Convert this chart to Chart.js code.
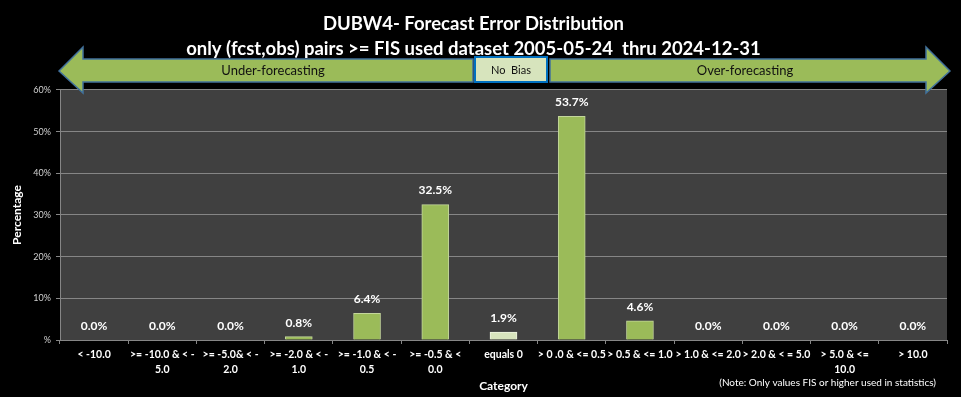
<!DOCTYPE html>
<html>
<head>
<meta charset="utf-8">
<script src="https://cdn.jsdelivr.net/npm/chart.js@4"></script>
<style>
  html, body { margin: 0; padding: 0; background: #000; }
  #wrap { width: 961px; height: 397px; }
</style>
</head>
<body>
<div id="wrap"><canvas id="error-chart"></canvas></div>
<script>
const categories = [
    '< -10.0',
    ['>= -10.0 & < -', '5.0'],
    ['>= -5.0& < -', '2.0'],
    ['>= -2.0 & < -', '1.0'],
    ['>= -1.0 & < -', '0.5'],
    ['>= -0.5 & <', '0.0'],
    'equals 0',
    '> 0 .0 & <= 0.5',
    '> 0.5 & <= 1.0',
    '> 1.0 & <= 2.0',
    '> 2.0 & < = 5.0',
    ['> 5.0 & <=', '10.0'],
    '> 10.0'
]
const percentages = [0.0, 0.0, 0.0, 0.8, 6.4, 32.5, 1.9, 53.7, 4.6, 0.0, 0.0, 0.0, 0.0]
const yTicks = [0, 10, 20, 30, 40, 50, 60]
const titleLines = [
    'DUBW4- Forecast Error Distribution',
    'only (fcst,obs) pairs >= FIS used dataset 2005-05-24  thru 2024-12-31'
]

const barColors = percentages.map((v, i) => i === 6 ? '#d7e4bd' : '#9bbb59')
const barBorders = percentages.map((v, i) => i === 6 ? '#eef4e2' : '#c3d69b')

// black page, dark grey plot area, arrows and labels on top
const decorations = {
    id: 'decorations',
    beforeDraw(chart) {
        const {ctx, chartArea: a} = chart
        ctx.save()
        ctx.fillStyle = '#000'
        ctx.fillRect(0, 0, chart.width, chart.height)
        ctx.fillStyle = '#404040'
        ctx.fillRect(a.left, a.top, a.right - a.left, a.bottom - a.top)
        ctx.restore()
    },
    afterDatasetsDraw(chart) {
        const {ctx} = chart
        const meta = chart.getDatasetMeta(0)
        ctx.save()
        ctx.fillStyle = '#fff'
        ctx.font = 'bold 12px Lato'
        ctx.textAlign = 'center'
        ctx.textBaseline = 'middle'
        meta.data.forEach((bar, i) => {
            ctx.fillText(percentages[i].toFixed(1) + '%', bar.x, bar.y - 14)
        })
        ctx.restore()
    },
    afterDraw(chart) {
        const {ctx} = chart
        ctx.save()
        ctx.lineWidth = 1.5
        ctx.strokeStyle = '#41719c'
        ctx.fillStyle = '#9bbb59'

        // left arrow
        ctx.beginPath()
        ctx.moveTo(59, 71)
        ctx.lineTo(83, 47)
        ctx.lineTo(83, 59)
        ctx.lineTo(473, 59)
        ctx.lineTo(473, 82)
        ctx.lineTo(83, 82)
        ctx.lineTo(83, 93)
        ctx.closePath()
        ctx.fill()
        ctx.stroke()

        // right arrow
        ctx.beginPath()
        ctx.moveTo(950, 71)
        ctx.lineTo(926, 47)
        ctx.lineTo(926, 59)
        ctx.lineTo(550, 59)
        ctx.lineTo(550, 82)
        ctx.lineTo(926, 82)
        ctx.lineTo(926, 93)
        ctx.closePath()
        ctx.fill()
        ctx.stroke()

        // no bias box
        ctx.fillStyle = '#d7e4bd'
        ctx.strokeStyle = '#0070c0'
        ctx.lineWidth = 2
        ctx.fillRect(475, 57, 72, 25)
        ctx.strokeRect(475, 57, 72, 25)

        ctx.fillStyle = '#111'
        ctx.font = '13px Lato'
        ctx.textAlign = 'center'
        ctx.textBaseline = 'middle'
        ctx.fillText('Under-forecasting', 273, 71)
        ctx.fillText('Over-forecasting', 745, 71)
        ctx.font = '11px Lato'
        ctx.fillText('No  Bias', 511, 70)

        ctx.fillStyle = '#fff'
        ctx.font = '10px Lato'
        ctx.textAlign = 'right'
        ctx.fillText('(Note: Only values FIS or higher used in statistics)', 936, 383)
        ctx.restore()
    }
}

const context = document.getElementById('error-chart').getContext('2d')

const configBar = {
    type: 'bar',
    data: {
        labels: categories,
        datasets: [{
            data: percentages,
            backgroundColor: barColors,
            borderColor: barBorders,
            borderWidth: 1,
            barThickness: 27
        }]
    },
    options: {
        responsive: true,
        maintainAspectRatio: false,
        animation: false,
        layout: {
            padding: { left: 0, right: 14, top: 0, bottom: 0 }
        },
        plugins: {
            legend: { display: false },
            tooltip: { enabled: false },
            title: {
                display: true,
                text: titleLines,
                color: '#fff',
                font: { family: 'Lato', size: 18.5, weight: 'bold', lineHeight: 1.35 },
                padding: { top: 12, bottom: 28 }
            }
        },
        scales: {
            x: {
                afterFit(scale) { scale.height = 57 },
                grid: {
                    drawOnChartArea: false,
                    color: '#868686',
                    tickLength: 4
                },
                border: { color: '#868686' },
                ticks: {
                    color: '#fff',
                    font: { family: 'Lato', size: 10.5, weight: 'bold', lineHeight: 1.35 },
                    maxRotation: 0,
                    autoSkip: false,
                    padding: 4
                },
                title: {
                    display: true,
                    text: 'Category',
                    color: '#fff',
                    font: { family: 'Lato', size: 12, weight: 'bold' },
                    padding: { top: 0, bottom: 4 }
                }
            },
            y: {
                min: 0,
                max: 60,
                afterFit(scale) { scale.width = 60 },
                afterBuildTicks(scale) { scale.ticks = yTicks.map(v => ({ value: v })) },
                grid: {
                    color: '#868686',
                    tickLength: 4
                },
                border: { color: '#868686' },
                ticks: {
                    color: '#d0d0d0',
                    font: { family: 'Lato', size: 9 },
                    padding: 5,
                    callback: v => v === 0 ? '%' : v + '%'
                },
                title: {
                    display: true,
                    text: 'Percentage',
                    color: '#fff',
                    font: { family: 'Lato', size: 12, weight: 'bold' },
                    padding: { top: 10, bottom: 0 }
                }
            }
        }
    },
    plugins: [decorations]
}

const chartBar = new Chart(context, configBar)
</script>
</body>
</html>
